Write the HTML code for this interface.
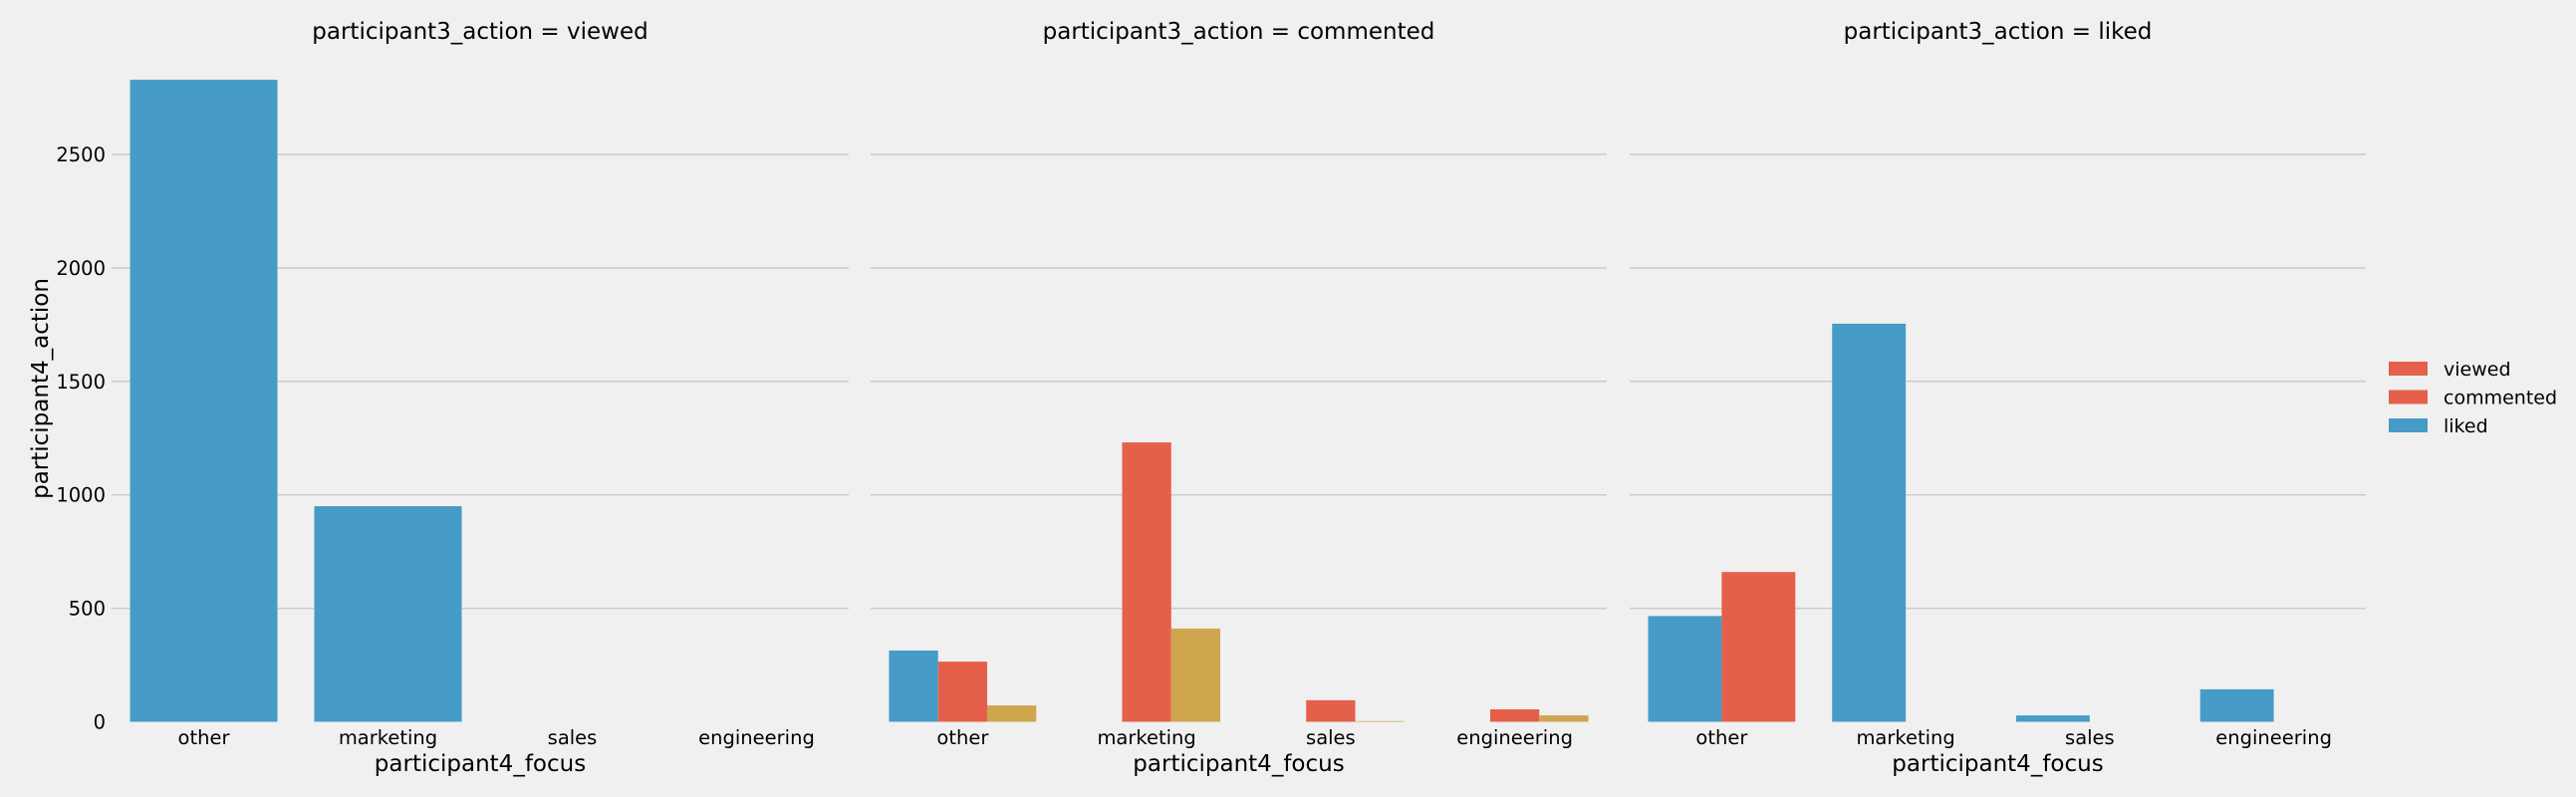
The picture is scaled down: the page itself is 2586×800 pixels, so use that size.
<!DOCTYPE html>
<html><head><meta charset="utf-8">
<style>
html,body{margin:0;padding:0;background:#f0f0f0;}
svg{display:block;font-family:"DejaVu Sans","Liberation Sans",sans-serif;}
</style></head>
<body>
<svg id="chart" width="2586" height="800" viewBox="0 0 2586 800" xmlns="http://www.w3.org/2000/svg">
<rect width="2586" height="800" fill="#f0f0f0"/>
</svg>
<script>
const categories = ["other","marketing","sales","engineering"];
const panelTitles = ["participant3_action = viewed","participant3_action = commented","participant3_action = liked"];
const yTicks = [0,500,1000,1500,2000,2500];
// panel 1: single hue slot (blue)
const p1Blue = [2829, 950, 0, 0];
// panel 2: three hue slots (blue, red, gold)
const p2Blue = [314, 0, 0, 0];
const p2Red = [265, 1231, 95, 55];
const p2Gold = [72, 411, 3, 28];
// panel 3: two hue slots (blue, red)
const p3Blue = [466, 1754, 28, 143];
const p3Red = [660, 0, 0, 0];
const legendLabels = ["viewed","commented","liked"];

const BLUE="#479bc7", RED="#e5604a", GOLD="#cfa64e";
const legendColors=[RED,RED,BLUE];
const panels=[
  {x0:112,x1:852,series:[{v:p1Blue,c:BLUE}]},
  {x0:874,x1:1613,series:[{v:p2Blue,c:BLUE},{v:p2Red,c:RED},{v:p2Gold,c:GOLD}]},
  {x0:1636,x1:2375,series:[{v:p3Blue,c:BLUE},{v:p3Red,c:RED}]}
];
const Y0=724.5, PXU=0.2278;
function yScale(v){return Y0 - v*PXU;}
const svg=document.getElementById('chart');
const NS="http://www.w3.org/2000/svg";
function mk(tag,attrs,parent){const e=document.createElementNS(NS,tag);for(const k in attrs)e.setAttribute(k,attrs[k]);(parent||svg).appendChild(e);return e;}

panels.forEach((p,pi)=>{
  const g=mk('g',{});
  
  
  const band=(p.x1-p.x0)/categories.length;
  yTicks.forEach(t=>{
    if(t===0) return;
    const l=mk('line',{x1:p.x0,x2:p.x1,y1:yScale(t),y2:yScale(t),stroke:'#cbcbcb','stroke-width':1.5},g);
    
    
  });
  const n=p.series.length, bw=band*0.8/n;
  p.series.forEach((s,si)=>{
    s.v.forEach((v,ci)=>{
      if(v<=0) return;
      const x=p.x0+band*ci+band*0.1+si*bw;
      const r=mk('rect',{x:x,y:yScale(v),width:bw,height:Y0-yScale(v),fill:s.c},g);
      
      
    });
  });
  categories.forEach((c,ci)=>{
    const t=mk('text',{x:p.x0+band*(ci+0.5),y:747,'text-anchor':'middle','font-size':19.5,fill:'#000'},g);
    t.textContent=c;
    
    
  });
  const xl=mk('text',{x:(p.x0+p.x1)/2,y:774,'text-anchor':'middle','font-size':23,fill:'#000'},g);
  xl.textContent='participant4_focus';
  
  
  const tt=mk('text',{x:(p.x0+p.x1)/2,y:39,'text-anchor':'middle','font-size':23,fill:'#000'},g);
  tt.textContent=panelTitles[pi];
  
  
});
yTicks.forEach(t=>{
  const e=mk('text',{x:106,y:yScale(t)+7,'text-anchor':'end','font-size':19.5,fill:'#000'});
  e.textContent=String(t);
  
  
});
const yl=mk('text',{x:0,y:0,'text-anchor':'middle','font-size':23,fill:'#000',transform:'translate(48,390) rotate(-90)'});
yl.textContent='participant4_action';


legendLabels.forEach((lab,i)=>{
  const y=370+i*28.5;
  const r=mk('rect',{x:2398,y:y-7,width:39,height:14,fill:legendColors[i]});
  
  
  const t=mk('text',{x:2453,y:y+7,'font-size':19,fill:'#000'});
  t.textContent=lab;
  
  
});
</script>
</body></html>
